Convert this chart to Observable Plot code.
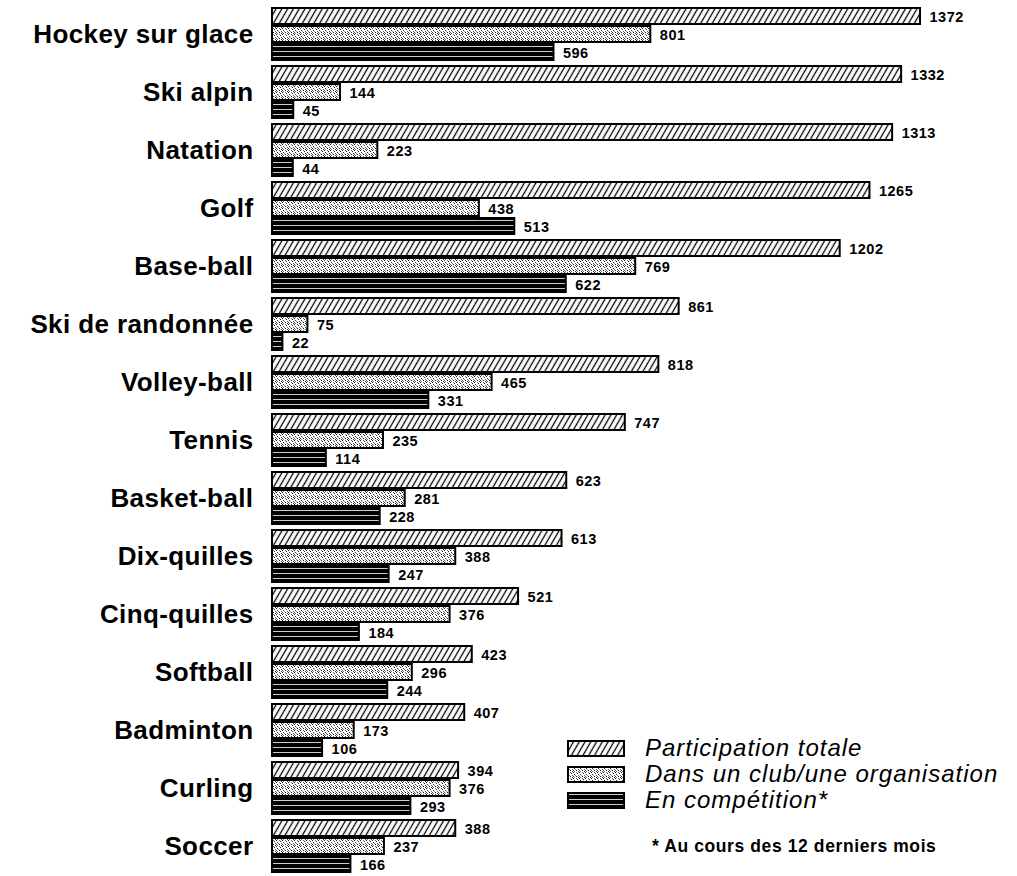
<!DOCTYPE html>
<html>
<head>
<meta charset="utf-8">
<script src="https://cdn.jsdelivr.net/npm/d3@7"></script>
<script src="https://cdn.jsdelivr.net/npm/@observablehq/plot@0.6"></script>
<style>
  body { margin: 0; background: #fff; }
  #wrap { position: relative; width: 1017px; height: 876px; font-family: Arial, "Liberation Sans", sans-serif; }
  #legend { position: absolute; left: 567px; top: 735px; }
  .item { display: flex; align-items: center; height: 26px; }
  .item svg { width: 58px; height: 17px; margin-right: 20px; flex: none; }
  .item span { font-style: italic; font-size: 24px; letter-spacing: 1px; color: #000; white-space: nowrap; }
  #note { position: absolute; left: 652px; top: 836px; font-size: 17.5px; letter-spacing: 0.6px; font-weight: bold; white-space: nowrap; }
</style>
</head>
<body>
<svg width="0" height="0" style="position:absolute">
  <defs>
    <pattern id="pTotal" patternUnits="userSpaceOnUse" width="5" height="5" patternTransform="rotate(30)">
      <rect width="5" height="5" fill="#fff"/>
      <line x1="1.5" y1="0" x2="1.5" y2="5" stroke="#000" stroke-width="1.3"/>
    </pattern>
    <pattern id="pClub" patternUnits="userSpaceOnUse" width="6" height="6">
      <rect width="6" height="6" fill="#fff"/>
      <rect x="0" y="0" width="1" height="1" fill="#111"/>
      <rect x="3" y="0" width="1" height="1" fill="#666"/>
      <rect x="4" y="1" width="1" height="1" fill="#222"/>
      <rect x="1" y="2" width="1" height="1" fill="#333"/>
      <rect x="5" y="3" width="1" height="1" fill="#555"/>
      <rect x="2" y="3" width="1" height="1" fill="#888"/>
      <rect x="0" y="4" width="1" height="1" fill="#444"/>
      <rect x="3" y="4" width="1" height="1" fill="#111"/>
      <rect x="1" y="5" width="1" height="1" fill="#777"/>
      <rect x="5" y="5" width="1" height="1" fill="#333"/>
    </pattern>
    <pattern id="pComp" patternUnits="userSpaceOnUse" width="10" height="5">
      <rect width="10" height="5" fill="#000"/>
      <line x1="0" y1="2.5" x2="10" y2="2.5" stroke="#fff" stroke-width="0.8"/>
    </pattern>
  </defs>
</svg>
<div id="wrap">
  <div id="chart"></div>
  <div id="legend"></div>
  <div id="note">* Au cours des 12 derniers mois</div>
</div>
<script>
const sports = ["Hockey sur glace","Ski alpin","Natation","Golf","Base-ball","Ski de randonnée","Volley-ball","Tennis","Basket-ball","Dix-quilles","Cinq-quilles","Softball","Badminton","Curling","Soccer"];
const total = [1372,1332,1313,1265,1202,861,818,747,623,613,521,423,407,394,388];
const club  = [801,144,223,438,769,75,465,235,281,388,376,296,173,376,237];
const comp  = [596,45,44,513,622,22,331,114,228,247,184,244,106,293,166];
const series = ["Participation totale","Dans un club/une organisation","En compétition*"];
const patterns = ["url(#pTotal)","url(#pClub)","url(#pComp)"];

const data = sports.flatMap((s, i) => [
  {sport: s, serie: series[0], value: total[i]},
  {sport: s, serie: series[1], value: club[i]},
  {sport: s, serie: series[2], value: comp[i]}
]);

const chart = Plot.plot({
  width: 1017,
  height: 876,
  marginLeft: 272,
  marginRight: 97,
  marginTop: 4,
  marginBottom: 0,
  style: {fontFamily: "Arial, 'Liberation Sans', sans-serif", background: "transparent"},
  x: {domain: [0, 1372], axis: null},
  y: {domain: series, axis: null, paddingInner: 0.1, paddingOuter: 0},
  fy: {domain: sports, padding: 0.09, label: null, axis: null},
  color: {domain: series, range: patterns},
  marks: [
    Plot.barX(data, {fy: "sport", y: "serie", x: "value", fill: "serie", stroke: "#000", strokeWidth: 2}),
    Plot.text(data, {fy: "sport", y: "serie", x: "value", text: d => String(d.value), dx: 9, dy: 1, textAnchor: "start", fontWeight: "bold", fontSize: 14.5, fill: "#000"}),
    Plot.axisFy({anchor: "left", tickSize: 0, tickPadding: 19, fontSize: 26, fontWeight: "bold", label: null, fill: "#000"})
  ]
});
chart.querySelectorAll("g[aria-label='fy-axis tick label']").forEach(g => g.setAttribute("letter-spacing", "0.4"));
chart.querySelectorAll("g[aria-label='text']").forEach(g => g.setAttribute("letter-spacing", "0.5"));
document.getElementById("chart").appendChild(chart);

const legend = document.getElementById("legend");
series.forEach((s, i) => {
  const div = document.createElement("div");
  div.className = "item";
  div.innerHTML = `<svg viewBox="0 0 58 17"><rect x="1" y="1" width="56" height="15" fill="${patterns[i]}" stroke="#000" stroke-width="2"/></svg><span>${s}</span>`;
  legend.appendChild(div);
});
</script>
</body>
</html>
